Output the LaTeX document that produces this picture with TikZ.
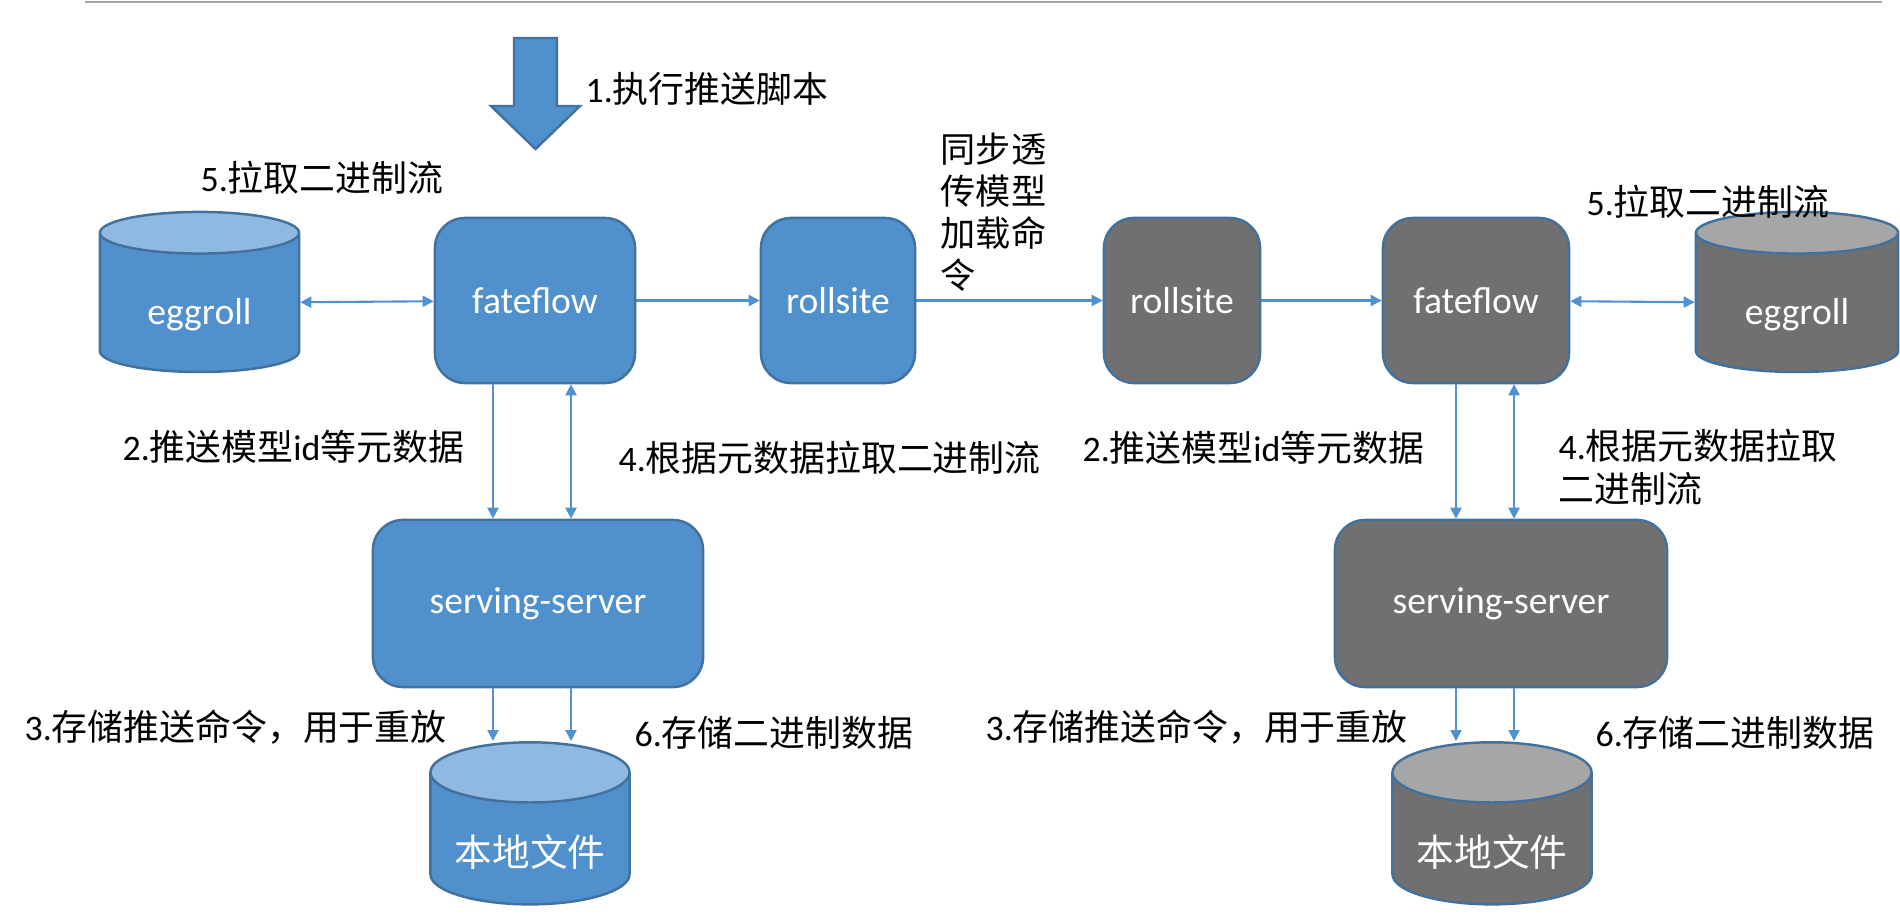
\documentclass[tikz,border=0pt]{standalone}
\usepackage{fontspec}
\setmainfont{Carlito}
\newfontfamily\zhfont{Noto Sans CJK SC}
\newcommand{\zh}[1]{{\zhfont #1}}
\usetikzlibrary{shapes.geometric,arrows.meta}
\definecolor{boxblue}{RGB}{79,144,205}
\definecolor{topblue}{RGB}{143,185,225}
\definecolor{boxgray}{RGB}{112,112,112}
\definecolor{topgray}{RGB}{166,166,166}
\definecolor{edgeblue}{RGB}{65,113,156}
\definecolor{flowblue}{RGB}{80,145,210}
\definecolor{rulegray}{RGB}{165,165,165}
\begin{document}
\begin{tikzpicture}[x=0.01cm,y=-0.01cm,>={Triangle[length=0.11cm,width=0.11cm]},
    font=\fontsize{10.2}{12.2}\selectfont,
    box/.style={draw=edgeblue,line width=0.7pt,rectangle,rounded corners=0.3cm,minimum height=1.65cm,text=white,font=\fontsize{10.7}{12.8}\selectfont},
    bluebox/.style={box,fill=boxblue},
    graybox/.style={box,fill=boxgray},
    disk/.style={draw=edgeblue,line width=0.7pt,cylinder,shape border rotate=90,aspect=0.4,minimum width=1.99cm,minimum height=1.6cm,cylinder uses custom fill,inner sep=0pt,text=white,font=\fontsize{10.7}{12.8}\selectfont,text height=0.51cm,text depth=0.075cm},
    bluedisk/.style={disk,cylinder body fill=boxblue,cylinder end fill=topblue},
    graydisk/.style={disk,cylinder body fill=boxgray,cylinder end fill=topgray},
    filedisk/.style={minimum height=1.62cm,text height=0.63cm},
    flow/.style={draw=flowblue,line width=0.6pt},
    note/.style={anchor=west,inner sep=0pt}]
    \useasboundingbox (0,0) rectangle (1900,922);
    %% Rule
    \draw[rulegray,line width=0.7pt] (85,2) -- (1882,2);
    %% Push script
    \draw[draw=edgeblue,fill=boxblue,line width=0.7pt] (514,38) -- (557,38) -- (557,106) -- (580,106) -- (535.5,149) -- (491,106) -- (514,106) -- cycle;
    \node[note] (push) at (585,89) {1.\zh{执行推送脚本}};
    %% Guest side
    \node[bluedisk] (egL) at (199.5,303) {eggroll};
    \node[bluebox,minimum width=2cm] (ffL) at (535,300.5) {fateflow};
    \node[bluebox,minimum width=1.54cm] (rsL) at (838,300.5) {rollsite};
    \node[bluebox,minimum width=3.3cm,minimum height=1.67cm] (ssL) at (538,603.5) {serving-server};
    \node[bluedisk,filedisk] (fileL) at (530,839) {\zh{本地文件}};
    %% Host side
    \node[graybox,minimum width=1.56cm] (rsR) at (1182,300.5) {rollsite};
    \node[graybox,minimum width=1.86cm] (ffR) at (1476,300.5) {fateflow};
    \node[graydisk,minimum width=2.02cm] (egR) at (1797,303) {eggroll};
    \node[graybox,minimum width=3.32cm,minimum height=1.67cm] (ssR) at (1501,603.5) {serving-server};
    \node[graydisk,filedisk] (fileR) at (1492,839) {\zh{本地文件}};
    %% Horizontal links
    \draw[flow,<->] (egL) -- (ffL);
    \draw[flow,->] (ffL) -- (rsL);
    \draw[flow,->] (rsL) -- (rsR);
    \draw[flow,->] (rsR) -- (ffR);
    \draw[flow,<->] (ffR) -- (egR);
    \node[note,anchor=north west,align=left,font=\zhfont] (sync) at (940,132) {同步透\\传模型\\加载命\\令};
    %% Vertical links
    \draw[flow,->] ([xshift=-0.42cm]ffL.south) -- ([xshift=-0.42cm]ffL.south |- ssL.north);
    \draw[flow,<->] ([xshift=0.36cm]ffL.south) -- ([xshift=0.36cm]ffL.south |- ssL.north);
    \draw[flow,->] ([xshift=-0.45cm]ssL.south) -- ([xshift=-0.45cm]ssL.south |- fileL.north);
    \draw[flow,->] ([xshift=0.33cm]ssL.south) -- ([xshift=0.33cm]ssL.south |- fileL.north);
    \draw[flow,->] ([xshift=-0.2cm]ffR.south) -- ([xshift=-0.2cm]ffR.south |- ssR.north);
    \draw[flow,<->] ([xshift=0.38cm]ffR.south) -- ([xshift=0.38cm]ffR.south |- ssR.north);
    \draw[flow,->] ([xshift=-0.45cm]ssR.south) -- ([xshift=-0.45cm]ssR.south |- fileR.north);
    \draw[flow,->] ([xshift=0.13cm]ssR.south) -- ([xshift=0.13cm]ssR.south |- fileR.north);
    %% Step labels
    \node[note] (pullL) at (200,178) {5.\zh{拉取二进制流}};
    \node[note] (pullR) at (1586,202) {5.\zh{拉取二进制流}};
    \node[note] (metaL) at (122,447) {2.\zh{推送模型}id\zh{等元数据}};
    \node[note] (fetchL) at (618,458) {4.\zh{根据元数据拉取二进制流}};
    \node[note] (metaR) at (1082,448) {2.\zh{推送模型}id\zh{等元数据}};
    \node[note,align=left] (fetchR) at (1558,467) {4.\zh{根据元数据拉取}\\\zh{二进制流}};
    \node[note] (storeL) at (24,727) {3.\zh{存储推送命令，用于重放}};
    \node[note] (binL) at (634,733) {6.\zh{存储二进制数据}};
    \node[note] (storeR) at (985,727) {3.\zh{存储推送命令，用于重放}};
    \node[note] (binR) at (1595,733) {6.\zh{存储二进制数据}};
\end{tikzpicture}
\end{document}
